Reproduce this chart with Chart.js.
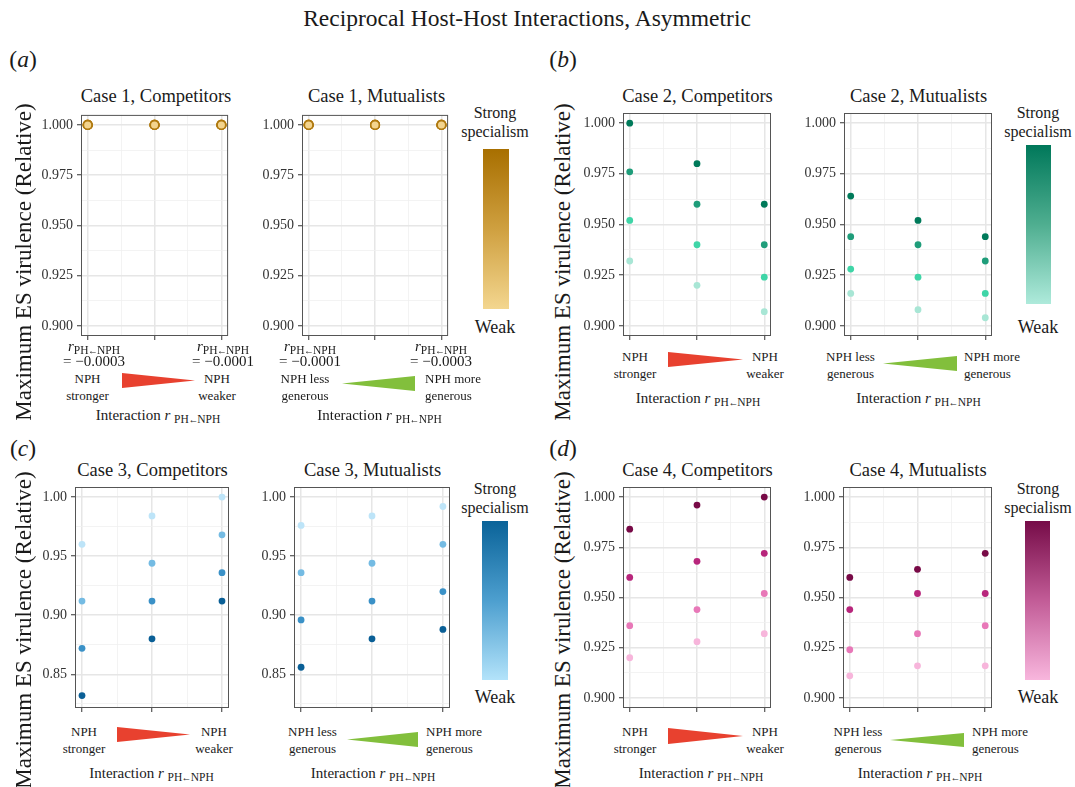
<!DOCTYPE html>
<html>
<head>
<meta charset="utf-8">
<title>Reciprocal Host-Host Interactions, Asymmetric</title>
<script src="https://cdn.jsdelivr.net/npm/chart.js@4.4.1/dist/chart.umd.min.js"></script>
<style>
  html, body { margin: 0; background: #fff; }
  #fig { position: relative; width: 1075px; height: 787px; overflow: hidden;
         font-family: 'Liberation Serif', 'Times New Roman', serif; color: #1a1a1a; }
  #fig canvas { position: absolute; }
  .t { position: absolute; white-space: nowrap; line-height: 1; transform: translate(-50%, -50%); text-align: center; }
  .t.left { transform: translate(0, -50%); text-align: left; }
  .t.two { line-height: 17px; }
  .t.rlab { line-height: 15px; }
  .sub { font-size: 11.5px; vertical-align: -3px; line-height: 0; }
  .arr { display: inline-block; margin: 0 -1.5px; transform: scaleX(0.85); }
  .t.ytitle { transform: translate(-50%, -50%) rotate(-90deg); }
  .bar, .tri { position: absolute; }
  .tri.red { background: #e8412f; clip-path: polygon(0 0, 100% 50%, 0 100%); }
  .tri.green { background: #82bf3c; clip-path: polygon(0 50%, 100% 0, 100% 100%); }
</style>
</head>
<body>
<div id="fig"></div>
<script>
// interaction levels along x (left to right)
const xLevels = [1, 2, 3];

// y tick labels
const yTicksFine = ['0.900', '0.925', '0.950', '0.975', '1.000'];
const yTicksCase3 = ['0.85', '0.90', '0.95', '1.00'];

// case 1 tick labels (r PH<-NPH values at the two ends)
const case1CompTicks = ['−0.0003', '−0.0001'];
const case1MutTicks = ['−0.0001', '−0.0003'];

// max ES virulence (relative), one row per specialism level: strong -> weak
const case1Comp = [[1.000, 1.000, 1.000], [1.000, 1.000, 1.000], [1.000, 1.000, 1.000], [1.000, 1.000, 1.000]];
const case1Mut  = [[1.000, 1.000, 1.000], [1.000, 1.000, 1.000], [1.000, 1.000, 1.000], [1.000, 1.000, 1.000]];
const case2Comp = [[1.000, 0.980, 0.960], [0.976, 0.960, 0.940], [0.952, 0.940, 0.924], [0.932, 0.920, 0.907]];
const case2Mut  = [[0.964, 0.952, 0.944], [0.944, 0.940, 0.932], [0.928, 0.924, 0.916], [0.916, 0.908, 0.904]];
const case3Comp = [[0.832, 0.880, 0.912], [0.872, 0.912, 0.936], [0.912, 0.944, 0.968], [0.960, 0.984, 1.000]];
const case3Mut  = [[0.856, 0.880, 0.888], [0.896, 0.912, 0.920], [0.936, 0.944, 0.960], [0.976, 0.984, 0.992]];
const case4Comp = [[0.984, 0.996, 1.000], [0.960, 0.968, 0.972], [0.936, 0.944, 0.952], [0.920, 0.928, 0.932]];
const case4Mut  = [[0.960, 0.964, 0.972], [0.944, 0.952, 0.952], [0.924, 0.932, 0.936], [0.911, 0.916, 0.916]];

// colours per case (strong -> weak) and colour bar stops
const gold  = { fills: ['#f3d48e', '#f3d48e', '#f3d48e', '#f3d48e'], border: '#b07a10', radius: 4.3, bw: 1.6,
                bar: 'linear-gradient(to bottom, #a86f00, #cfa040 50%, #f3d68f)' };
const green = { fills: ['#007a5a', '#1f9d7a', '#3fd5a7', '#a8e6d5'],
                bar: 'linear-gradient(to bottom, #00785a, #4fae90 50%, #aeeadb)' };
const blue  = { fills: ['#0a5f96', '#3a91c7', '#74bbe3', '#bde4f8'],
                bar: 'linear-gradient(to bottom, #0a6399, #4d9fcf 50%, #b3e3fa)' };
const pink  = { fills: ['#780a47', '#b8267c', '#e878b8', '#f7b5db'],
                bar: 'linear-gradient(to bottom, #760c48, #c25c97 50%, #f8b6dd)' };

const fig = document.getElementById('fig');

function text(x, y, html, size, cls) {
  const d = document.createElement('div');
  d.className = 't' + (cls ? ' ' + cls : '');
  d.style.left = x + 'px';
  d.style.top = y + 'px';
  if (size) d.style.fontSize = size + 'px';
  d.innerHTML = html;
  fig.appendChild(d);
  return d;
}

function box(cls, x1, y1, x2, y2, bg) {
  const d = document.createElement('div');
  d.className = cls;
  d.style.left = x1 + 'px';
  d.style.top = y1 + 'px';
  d.style.width = (x2 - x1) + 'px';
  d.style.height = (y2 - y1) + 'px';
  if (bg) d.style.background = bg;
  fig.appendChild(d);
}

const panelBox = {
  id: 'panelBox',
  afterDraw(chart) {
    const a = chart.chartArea, c = chart.ctx;
    c.save();
    c.strokeStyle = '#555';
    c.lineWidth = 1;
    c.strokeRect(a.left + 0.5, a.top + 0.5, a.right - a.left - 1, a.bottom - a.top - 1);
    c.restore();
  }
};

function gridOpts(isMajor) {
  const maj = c => c.tick ? isMajor(c.tick.value) : true;
  return {
    color: c => maj(c) ? '#e6e6e6' : '#f0f0f0',
    lineWidth: c => maj(c) ? 1.5 : 0.8,
    tickColor: c => maj(c) ? '#333' : 'rgba(0,0,0,0)',
    tickLength: 4,
    tickWidth: 1
  };
}

function makePanel(p) {
  const yW = 46, pad = 3, xH = 8;
  const w = p.r - p.l, h = p.b - p.t;
  const cv = document.createElement('canvas');
  cv.width = w + yW + pad;
  cv.height = h + pad + xH;
  cv.style.left = (p.l - yW) + 'px';
  cv.style.top = (p.t - pad) + 'px';
  fig.appendChild(cv);

  const yMajor = p.yTicks.map(Number);
  const step = yMajor[1] - yMajor[0];
  const yMinor = yMajor.map(v => v - step / 2)
    .concat([yMajor[yMajor.length - 1] + step / 2])
    .filter(v => v > p.yMin && v < p.yMax);
  const isMajorY = v => yMajor.some(m => Math.abs(m - v) < 1e-6);
  const isMajorX = v => xLevels.some(m => Math.abs(m - v) < 1e-6);

  const pal = p.pal, n = p.series.length;
  const datasets = p.series.map((vals, i) => ({
    data: xLevels.map((x, j) => ({ x: x, y: vals[j] })),
    backgroundColor: pal.fills[i],
    borderColor: pal.border || pal.fills[i],
    borderWidth: pal.bw || 0,
    pointRadius: pal.radius || 3.4,
    order: n - i
  }));

  new Chart(cv, {
    type: 'scatter',
    data: { datasets: datasets },
    plugins: [panelBox],
    options: {
      responsive: false,
      animation: false,
      devicePixelRatio: 1,
      layout: { padding: { top: pad, right: pad, left: 0, bottom: 0 } },
      plugins: { legend: { display: false }, tooltip: { enabled: false } },
      scales: {
        x: {
          type: 'linear', min: 0.9, max: 3.1,
          afterBuildTicks: ax => { ax.ticks = [1, 1.5, 2, 2.5, 3].map(v => ({ value: v })); },
          afterFit: s => { s.height = xH; s.paddingLeft = 0; s.paddingRight = 0; },
          ticks: { display: false },
          grid: gridOpts(isMajorX),
          border: { display: false }
        },
        y: {
          type: 'linear', min: p.yMin, max: p.yMax,
          afterBuildTicks: ax => {
            ax.ticks = yMajor.concat(yMinor).sort((a, b) => a - b).map(v => ({ value: v }));
          },
          afterFit: s => { s.width = yW; s.paddingTop = 0; s.paddingBottom = 0; },
          ticks: {
            autoSkip: false,
            padding: 4,
            color: '#333',
            font: { family: 'Liberation Serif', size: 14 },
            callback: v => {
              const k = yMajor.findIndex(m => Math.abs(m - v) < 1e-6);
              return k < 0 ? '' : p.yTicks[k];
            }
          },
          grid: gridOpts(isMajorY),
          border: { display: false }
        }
      }
    }
  });

  text((p.l + p.r) / 2, p.t - 16.5, p.title, 18.5);
}

const panels = [
  { title: 'Case 1, Competitors', series: case1Comp, pal: gold, yTicks: yTicksFine, yMin: 0.895, yMax: 1.005, l: 81, r: 231, t: 112, b: 336 },
  { title: 'Case 1, Mutualists', series: case1Mut, pal: gold, yTicks: yTicksFine, yMin: 0.895, yMax: 1.005, l: 302, r: 451, t: 112, b: 336 },
  { title: 'Case 2, Competitors', series: case2Comp, pal: green, yTicks: yTicksFine, yMin: 0.895, yMax: 1.005, l: 623, r: 772, t: 112, b: 336 },
  { title: 'Case 2, Mutualists', series: case2Mut, pal: green, yTicks: yTicksFine, yMin: 0.895, yMax: 1.005, l: 844, r: 993, t: 112, b: 336 },
  { title: 'Case 3, Competitors', series: case3Comp, pal: blue, yTicks: yTicksCase3, yMin: 0.8215, yMax: 1.0085, l: 75, r: 230, t: 486, b: 708 },
  { title: 'Case 3, Mutualists', series: case3Mut, pal: blue, yTicks: yTicksCase3, yMin: 0.8215, yMax: 1.0085, l: 294, r: 451, t: 486, b: 708 },
  { title: 'Case 4, Competitors', series: case4Comp, pal: pink, yTicks: yTicksFine, yMin: 0.895, yMax: 1.005, l: 623, r: 772, t: 486, b: 708 },
  { title: 'Case 4, Mutualists', series: case4Mut, pal: pink, yTicks: yTicksFine, yMin: 0.895, yMax: 1.005, l: 843, r: 993, t: 486, b: 708 }
];
panels.forEach(makePanel);

// headings
text(527, 19, 'Reciprocal Host-Host Interactions, Asymmetric', 23.5);
text(23, 60, '(<i>a</i>)', 23.5);
text(563, 60, '(<i>b</i>)', 23.5);
text(23, 449, '(<i>c</i>)', 23.5);
text(563, 449, '(<i>d</i>)', 23.5);

const yTitle = 'Maximum ES virulence (Relative)';
text(22.5, 262, yTitle, 23, 'ytitle');
text(561.5, 262, yTitle, 23, 'ytitle');
text(22.5, 630, yTitle, 23, 'ytitle');
text(561.5, 630, yTitle, 23, 'ytitle');

// colour bars
function colourBar(pal, cx, x1, x2, y1, y2, ys, yw) {
  box('bar', x1, y1, x2, y2, pal.bar);
  text(cx, ys, 'Strong', 16);
  text(cx, ys + 19, 'specialism', 16);
  text(cx, yw, 'Weak', 18);
}
colourBar(gold, 495, 483, 509, 149, 309, 113, 327);
colourBar(green, 1038, 1026, 1051, 145, 304, 113, 327);
colourBar(blue, 495, 482, 508, 521, 680, 489, 697);
colourBar(pink, 1038, 1025, 1050, 521, 680, 489, 697);

// x axis annotations
const sub = 'PH<span class="arr">←</span>NPH';
const xTitle = 'Interaction <i>r</i> <span class="sub">' + sub + '</span>';
const rLab = v => '<i>r</i><span class="sub">' + sub + '</span><br>= ' + v;

function compAxis(sx, wx, y, tri, tx, ty) {
  text(sx, y, 'NPH<br>stronger', 13, 'two');
  text(wx, y, 'NPH<br>weaker', 13, 'two');
  box('tri red', tri[0], tri[1], tri[2], tri[3]);
  text(tx, ty, xTitle, 15);
}
function mutAxis(lx, mx, y, tri, tx, ty) {
  text(lx, y, 'NPH less<br>generous', 13, 'two');
  text(mx, y, 'NPH more<br>generous', 13, 'two left');
  box('tri green', tri[0], tri[1], tri[2], tri[3]);
  text(tx, ty, xTitle, 15);
}

// case 1 tick labels
text(94, 354, rLab(case1CompTicks[0]), 15, 'rlab');
text(223, 354, rLab(case1CompTicks[1]), 15, 'rlab');
text(310, 354, rLab(case1MutTicks[0]), 15, 'rlab');
text(441, 354, rLab(case1MutTicks[1]), 15, 'rlab');

compAxis(87.5, 217, 386.5, [122, 373, 195, 388], 158, 415);
mutAxis(305, 425, 386.5, [342, 376, 415, 391], 379.5, 415);
compAxis(635, 765, 365, [668, 352, 743, 367], 698, 398);
mutAxis(850.5, 964, 365, [883, 356, 957, 371], 918.5, 398);
compAxis(84, 214, 739.5, [117, 727, 190, 742], 151.5, 773);
mutAxis(312.5, 426, 739.5, [347, 732, 418, 747], 373, 773);
compAxis(635, 765, 740, [668, 728, 743, 744], 701, 773);
mutAxis(858, 972, 740, [890, 733, 964, 747], 920, 773);
</script>
</body>
</html>
